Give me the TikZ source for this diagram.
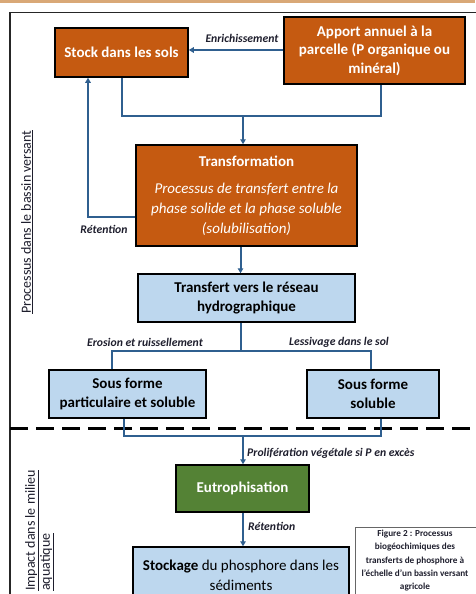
\documentclass[tikz,border=0pt]{standalone}
\usepackage{fontspec}
\setmainfont{Carlito}
\usetikzlibrary{arrows.meta,calc}
\definecolor{orangebox}{RGB}{197,90,17}
\definecolor{bluebox}{RGB}{189,215,238}
\definecolor{greenbox}{RGB}{84,130,53}
\definecolor{arrowcol}{RGB}{47,95,143}
\definecolor{labelcol}{RGB}{30,30,45}
\definecolor{tanband}{RGB}{217,168,119}
\begin{document}
\begin{tikzpicture}[x=1pt,y=-1pt,
  box/.style={draw=black,line width=1.5pt,inner sep=1pt,align=center,font=\fontsize{15}{18.5}\selectfont\bfseries},
  obox/.style={box,fill=orangebox,text=white},
  bbox/.style={box,fill=bluebox,text=black},
  gbox/.style={box,fill=greenbox,text=white},
  conn/.style={draw=arrowcol,line width=2pt},
  arr/.style={conn,-{Triangle[length=5pt,width=5.5pt]}},
  lab/.style={font=\fontsize{11.7}{13}\selectfont\bfseries\itshape,text=labelcol,inner sep=1pt},
  side/.style={font=\fontsize{14}{15}\selectfont,text=labelcol,inner sep=0pt}
]
\useasboundingbox (0,0) rectangle (475,594);
\fill[tanband] (0,0) rectangle (475,3);
\draw[line width=1.5pt,black!85] (480,12.5) -- (10,12.5) -- (10,600);

% nodes
\node[obox,minimum width=133,minimum height=49] (stock) at (121.5,52.5) {Stock dans les sols};
\node[obox,minimum width=181,minimum height=67] (apport) at (374.5,50.5) {Apport annuel à la\\parcelle (P organique ou\\minéral)};
\node[obox,minimum width=221,minimum height=101,font=\fontsize{15}{20}\selectfont] (trans) at (246.5,195.5)
  {\textbf{Transformation}\\[7pt]\itshape Processus de transfert entre la\\\itshape phase solide et la phase soluble\\\itshape (solubilisation)};
\node[bbox,minimum width=217,minimum height=48] (transf) at (246.5,298) {Transfert vers le réseau\\hydrographique};
\node[bbox,minimum width=157,minimum height=48] (part) at (127.5,394) {Sous forme\\particulaire et soluble};
\node[bbox,minimum width=132,minimum height=48] (sol) at (373,394) {Sous forme\\soluble};
\node[gbox,minimum width=133,minimum height=47] (eutro) at (242.5,488.5) {Eutrophisation};
\node[bbox,minimum width=216,minimum height=57,font=\fontsize{15}{20.5}\selectfont] (stockage) at (241,575.5) {\textbf{Stockage} du phosphore dans les\\sédiments};
\node[draw=black!60,line width=0.8pt,minimum width=125,minimum height=75,anchor=north west] (cap) at (355,527) {};
\node[anchor=north,align=center,inner sep=0pt,font=\fontsize{9.2}{13.2}\selectfont\bfseries,text=labelcol] (captext) at (415,530)
  {Figure 2 : Processus\\biogéochimiques des\\transferts de phosphore à\\l'échelle d'un bassin versant\\agricole};

% connectors
\coordinate (m1) at (243,116);
\draw[arr] (apport.west |- 0,50) -- (stock.east |- 0,50);
\node[lab,anchor=south] (enr) at (242,44) {Enrichissement};
\draw[conn] (stock.south) |- (m1) -| ([xshift=6.5pt]apport.south);
\draw[arr] (m1) -- (m1 |- trans.north);

\coordinate (retx) at (88,0);
\draw[arr] ([yshift=-21.5pt]trans.west) -| (stock.south -| retx);
\node[lab] (ret1) at (104,229) {Rétention};

\draw[arr] ([xshift=-6pt]trans.south) -- ([xshift=-6pt]transf.north);

\coordinate (split) at (241,351);
\draw[conn] ([xshift=-5.5pt]transf.south) -- (split);
\draw[conn] ([xshift=-15.5pt]part.north) |- (split) -| ([xshift=-2pt]sol.north);
\node[lab] (ero) at (145,342) {Erosion et ruissellement};
\node[lab] (less) at (339,342) {Lessivage dans le sol};

\draw[line width=3pt,black,dash pattern=on 18pt off 8pt] (10,428) -- (480,428);

\coordinate (m2) at (243,436);
\draw[conn] ([xshift=-3.5pt]part.south) |- (m2) -| ([xshift=8pt]sol.south);
\draw[arr] (m2) -- (m2 |- eutro.north);
\node[lab,anchor=west] (prol) at (246,453) {Prolifération végétale si P en excès};

\draw[arr] ([xshift=0.5pt]eutro.south) -- ([xshift=2pt]stockage.north);
\node[lab,anchor=west] (ret2) at (247,526) {Rétention};

% side labels
\node[side,rotate=90] (proc) at (27,222) {\underline{Processus dans le bassin versant}};
\node[side,rotate=90,anchor=north west,align=left] (imp) at (25,591) {\underline{Impact dans le milieu}\\\underline{aquatique}};
\end{tikzpicture}
\end{document}
